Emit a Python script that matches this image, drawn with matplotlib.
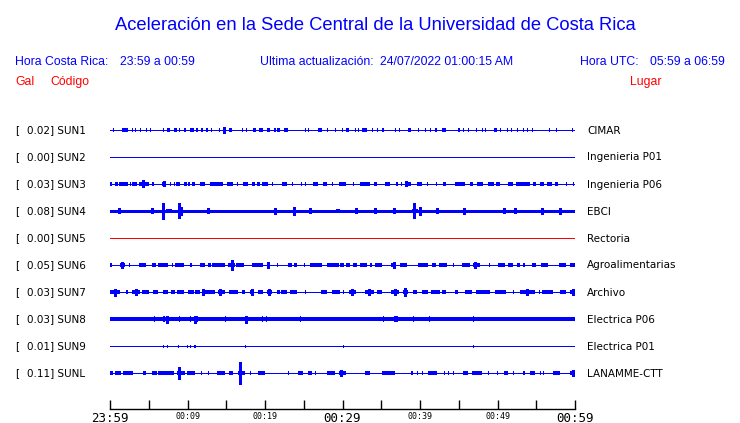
import matplotlib
matplotlib.use("Agg")
import matplotlib.pyplot as plt

# station info
codes = ["SUN1", "SUN2", "SUN3", "SUN4", "SUN5", "SUN6", "SUN7", "SUN8", "SUN9", "SUNL"]
peaks = [0.02, 0.00, 0.03, 0.08, 0.00, 0.05, 0.03, 0.03, 0.01, 0.11]
places = ["CIMAR", "Ingenieria P01", "Ingenieria P06", "EBCI", "Rectoria",
          "Agroalimentarias", "Archivo", "Electrica P06", "Electrica P01", "LANAMME-CTT"]
colors = ["blue", "blue", "blue", "blue", "red", "blue", "blue", "blue", "blue", "blue"]

# minutes after 23:59, tick labels every 10 min
tick_minutes = [0, 10, 20, 30, 40, 50, 60]
tick_labels = ["23:59", "00:09", "00:19", "00:29", "00:39", "00:49", "00:59"]

# background noise level of each trace (counts)
noise = [0.5, 0.5, 0.5, 1.5, 0.5, 0.5, 0.5, 1.8, 0.5, 0.5]
# typical burst level of each trace (counts)
burst_amp = [1.6, 0, 2.0, 2.4, 0, 2.0, 2.0, 2.6, 1.5, 1.9]

# bursts: (start_min, end_min)
sun1_bursts = [(0.4, 0.4), (1.6, 2.3), (2.8, 2.8), (3.2, 3.2), (3.9, 3.9), (4.7, 4.7), (5.1, 5.1),
               (6.9, 6.9), (7.4, 7.7), (8.3, 8.6), (8.9, 8.9), (9.6, 9.8), (10.3, 10.8), (11.1, 11.4),
               (11.7, 12.0), (12.4, 12.6), (13.0, 13.0), (14.0, 14.0), (14.6, 14.9), (15.3, 15.7),
               (17.0, 17.0), (17.6, 17.6), (18.5, 18.9), (19.2, 19.7), (20.2, 20.6), (21.1, 21.4),
               (21.6, 21.9), (22.4, 23.0), (25.1, 25.1), (25.6, 25.6), (26.9, 27.3), (28.0, 28.0),
               (29.0, 29.0), (29.9, 29.9), (30.5, 30.8), (31.6, 31.8), (32.0, 32.0), (32.5, 33.1),
               (33.8, 33.8), (34.5, 34.5), (35.1, 35.3), (36.8, 36.8), (37.3, 37.3), (38.5, 38.8),
               (39.8, 39.8), (40.6, 40.6), (41.3, 41.3), (41.9, 42.2), (42.8, 43.4), (44.9, 45.2),
               (45.5, 45.5), (46.2, 46.2), (47.2, 47.2), (48.0, 48.0), (48.4, 48.4), (49.6, 49.9),
               (50.3, 50.3), (51.2, 51.4), (51.8, 51.8), (52.5, 52.7), (53.3, 53.3), (53.8, 53.8),
               (54.4, 54.4), (56.7, 56.7), (57.5, 57.5), (59.6, 59.8)]
sun2_bursts = []
sun3_bursts = [(0.0, 0.3), (0.6, 1.0), (1.2, 2.3), (2.6, 2.6), (2.9, 3.5), (3.8, 4.1), (4.5, 5.0),
               (5.4, 5.7), (6.7, 7.2), (7.7, 7.7), (8.2, 8.2), (8.5, 9.0), (9.5, 9.9), (10.1, 10.3),
               (10.6, 11.0), (11.6, 12.3), (12.9, 14.6), (15.1, 15.9), (16.4, 16.4), (17.1, 17.8),
               (18.3, 18.7), (19.0, 19.3), (19.6, 20.4), (20.9, 20.9), (22.2, 22.9), (23.5, 23.5),
               (24.7, 24.7), (25.2, 25.2), (26.2, 26.9), (27.5, 28.0), (28.6, 28.6), (29.5, 30.5),
               (31.3, 31.3), (32.2, 33.5), (34.1, 34.4), (35.5, 36.1), (36.9, 37.2), (37.6, 37.6),
               (38.1, 38.9), (39.6, 40.2), (40.9, 40.9), (42.1, 42.1), (43.0, 43.4), (44.5, 45.8),
               (46.5, 46.8), (47.3, 48.1), (48.8, 49.5), (49.8, 50.3), (51.3, 52.0), (52.4, 54.2),
               (54.6, 55.0), (55.5, 56.0), (56.4, 57.0), (57.4, 57.8), (58.9, 58.9), (59.8, 59.8)]
sun4_bursts = [(7.2, 8.0), (29.2, 29.7), (39.0, 39.8)]
sun5_bursts = []
sun6_bursts = [(0.0, 0.2), (1.3, 1.9), (2.5, 2.5), (3.7, 4.7), (5.4, 5.9), (6.2, 7.5), (8.0, 8.0),
               (8.4, 9.5), (10.3, 10.6), (11.6, 12.2), (12.7, 13.0), (13.2, 14.8), (15.2, 16.1),
               (16.3, 17.3), (18.3, 19.8), (20.4, 20.6), (21.6, 21.6), (23.0, 23.5), (23.8, 24.1),
               (25.0, 25.0), (25.8, 27.3), (28.0, 29.5), (29.7, 30.2), (30.5, 31.0), (31.4, 31.9),
               (32.3, 33.1), (33.5, 33.8), (34.2, 35.1), (36.3, 36.9), (37.4, 38.3), (39.7, 41.0),
               (41.6, 42.1), (42.4, 43.5), (44.3, 44.3), (45.4, 46.5), (46.9, 47.7), (48.9, 48.9),
               (50.1, 51.0), (51.4, 52.0), (52.5, 52.9), (53.3, 53.6), (54.4, 55.0), (55.6, 56.5),
               (57.9, 58.8), (59.4, 60.0)]
sun7_bursts = [(0.0, 1.3), (2.0, 2.3), (2.8, 3.9), (4.1, 5.0), (5.5, 6.2), (6.8, 7.5), (7.9, 8.4),
               (8.7, 9.6), (10.0, 10.8), (11.0, 11.6), (12.3, 13.5), (13.9, 14.8), (15.3, 16.5),
               (17.0, 17.4), (18.1, 18.5), (19.1, 19.8), (20.2, 20.9), (21.5, 21.9), (22.1, 22.8),
               (23.2, 24.1), (25.2, 25.2), (27.2, 28.0), (28.6, 29.7), (30.1, 30.1), (30.8, 31.7),
               (32.9, 34.0), (34.4, 35.1), (36.2, 37.3), (37.8, 38.5), (39.1, 39.6), (40.2, 41.0),
               (41.4, 42.6), (42.8, 43.4), (44.5, 44.9), (45.8, 46.7), (47.2, 49.0), (49.7, 51.1),
               (52.0, 52.0), (52.9, 54.8), (55.3, 55.3), (55.7, 57.2), (58.1, 58.8), (59.4, 60.0)]
sun8_bursts = [(5.7, 5.7), (6.9, 7.1), (8.9, 8.9), (10.3, 10.3), (10.8, 11.3), (14.9, 14.9),
               (17.4, 17.8), (19.6, 19.6), (20.1, 20.1), (24.5, 24.5), (35.2, 35.2), (36.6, 37.1),
               (39.1, 39.1), (41.2, 41.2), (46.9, 46.9)]
sun9_bursts = [(6.8, 7.0), (7.4, 7.4), (8.8, 8.8), (9.9, 9.9), (10.3, 10.3), (10.8, 11.1),
               (17.4, 17.4), (30.0, 30.0), (46.9, 46.9)]
sunl_bursts = [(0.0, 0.4), (0.6, 1.4), (1.7, 3.0), (4.3, 4.7), (5.4, 6.0), (6.2, 8.3), (8.6, 9.7),
               (9.9, 11.0), (11.8, 11.8), (12.7, 12.7), (13.8, 14.8), (15.3, 15.9), (16.5, 17.4),
               (18.1, 18.1), (19.1, 20.0), (23.0, 23.0), (24.2, 24.9), (25.6, 26.0), (26.5, 26.5),
               (28.0, 29.0), (29.5, 30.5), (32.9, 33.5), (35.1, 36.8), (38.9, 39.1), (39.6, 39.6),
               (40.2, 40.2), (41.0, 42.2), (43.1, 43.1), (43.6, 43.6), (44.3, 44.3), (45.6, 46.2),
               (46.7, 48.0), (48.8, 48.8), (49.9, 49.9), (50.8, 51.4), (52.0, 52.0), (53.3, 53.5),
               (54.2, 54.9), (55.5, 55.5), (55.9, 55.9), (57.2, 58.0), (59.4, 60.0)]

# larger peaks: (minute, counts)
sun1_peaks = [(14.7, 3.0)]
sun2_peaks = []
sun3_peaks = [(4.3, 3.5), (7.0, 2.5), (38.2, 2.5)]
sun4_peaks = [(1.2, 2.5), (5.4, 2.5), (6.8, 8.0), (8.9, 7.5), (9.1, 4.0), (12.6, 2.5), (21.3, 3.0),
              (23.7, 4.0), (25.8, 2.5), (31.8, 2.5), (34.2, 2.5), (36.7, 2.5), (39.2, 7.5),
              (40.0, 4.0), (42.2, 2.5), (45.7, 3.0), (50.8, 2.5), (52.3, 2.5), (55.8, 3.0), (58.0, 3.0)]
sun5_peaks = []
sun6_peaks = [(1.6, 3.0), (15.8, 5.0), (20.4, 3.0), (36.7, 3.0), (47.1, 3.0)]
sun7_peaks = [(0.6, 3.5), (3.4, 3.0), (12.0, 3.0), (14.2, 3.0), (18.3, 3.0), (20.5, 3.0),
              (31.2, 3.0), (33.4, 3.0), (36.8, 3.0), (38.1, 4.0), (53.8, 3.0), (59.8, 3.0)]
sun8_peaks = [(7.4, 3.5), (11.0, 3.5), (17.6, 3.5)]
sun9_peaks = []
sunl_peaks = [(8.9, 6.0), (16.8, 11.0), (29.8, 3.0), (59.7, 3.0)]

all_bursts = [sun1_bursts, sun2_bursts, sun3_bursts, sun4_bursts, sun5_bursts,
              sun6_bursts, sun7_bursts, sun8_bursts, sun9_bursts, sunl_bursts]
all_peaks = [sun1_peaks, sun2_peaks, sun3_peaks, sun4_peaks, sun5_peaks,
             sun6_peaks, sun7_peaks, sun8_peaks, sun9_peaks, sunl_peaks]

W, H = 740, 423
ROW0, ROWSTEP = 130, 27  # pixel rows of the traces
X0, X1 = 110, 575
SCALE = 1.0 / ROWSTEP  # counts -> row units

HEAD = "Liberation Sans"
BODY = "DejaVu Sans"


def fx(px):
    return px / W


def fy(py):
    return 1 - py / H


fig = plt.figure(figsize=(W / 100, H / 100), dpi=100)
fig.patch.set_facecolor("white")

# header
fig.text(fx(375), fy(30), "Aceleración en la Sede Central de la Universidad de Costa Rica",
         ha="center", va="baseline", color="blue", fontsize=13.2, family=HEAD)
fig.text(fx(15), fy(65), "Hora Costa Rica:", color="blue", fontsize=8.8, family=HEAD, va="baseline")
fig.text(fx(120), fy(65), "23:59 a 00:59", color="blue", fontsize=8.8, family=HEAD, va="baseline")
fig.text(fx(260), fy(65), "Ultima actualización:", color="blue", fontsize=8.8, family=HEAD, va="baseline")
fig.text(fx(380), fy(65), "24/07/2022 01:00:15 AM", color="blue", fontsize=8.8, family=HEAD, va="baseline")
fig.text(fx(580), fy(65), "Hora UTC:", color="blue", fontsize=8.8, family=HEAD, va="baseline")
fig.text(fx(650), fy(65), "05:59 a 06:59", color="blue", fontsize=8.8, family=HEAD, va="baseline")
fig.text(fx(15), fy(85), "Gal", color="red", fontsize=8.8, family=HEAD, va="baseline")
fig.text(fx(50), fy(85), "Código", color="red", fontsize=8.8, family=HEAD, va="baseline")
fig.text(fx(630), fy(85), "Lugar", color="red", fontsize=8.8, family=HEAD, va="baseline")

# traces
n = len(codes)
ax = fig.add_axes([fx(X0), fy(ROW0 + ROWSTEP * (n - 0.5)), fx(X1) - fx(X0), ROWSTEP * n / H])
ax.set_xlim(0, 60)
ax.set_ylim(n - 0.5, -0.5)
ax.axis("off")

for i in range(n):
    c = colors[i]
    ax.hlines(i, 0, 60, color=c, lw=max(noise[i] * 2 * 0.72, 0.72), antialiased=False)
    bars = [(a, max(b - a, 0.13)) for a, b in all_bursts[i]]
    if bars:
        h = burst_amp[i] * SCALE
        ax.broken_barh(bars, (i - h, 2 * h), facecolor=c, lw=0, antialiased=False)
    for t, amp in all_peaks[i]:
        ax.vlines(t, i - amp * SCALE, i + amp * SCALE, color=c, lw=0.75, antialiased=False)

    y = ROW0 + ROWSTEP * i + 3.5
    fig.text(fx(15), fy(y), "[", fontsize=7.5, family=BODY, va="baseline")
    fig.text(fx(27), fy(y), f"{peaks[i]:.2f}] {codes[i]}", fontsize=7.5, family=BODY, va="baseline")
    fig.text(fx(587), fy(y), places[i], fontsize=7.5, family=BODY, va="baseline")

# time axis
tax = fig.add_axes([fx(X0), fy(409), fx(X1) - fx(X0), 0.0005])
tax.set_xlim(0, 60)
for s in ["top", "left", "right"]:
    tax.spines[s].set_visible(False)
tax.spines["bottom"].set_linewidth(1.0)
tax.set_yticks([])
tax.set_xticks(tick_minutes, tick_labels, family="DejaVu Sans Mono")
tax.set_xticks([m + 5 for m in tick_minutes[:-1]], minor=True)
tax.tick_params(axis="x", which="both", direction="in", length=6.5, width=1.0, pad=1.8)
for lab, m in zip(tax.get_xticklabels(), tick_minutes):
    lab.set_fontsize(9 if m % 30 == 0 else 6)

fig.savefig("out.png", dpi=100)
